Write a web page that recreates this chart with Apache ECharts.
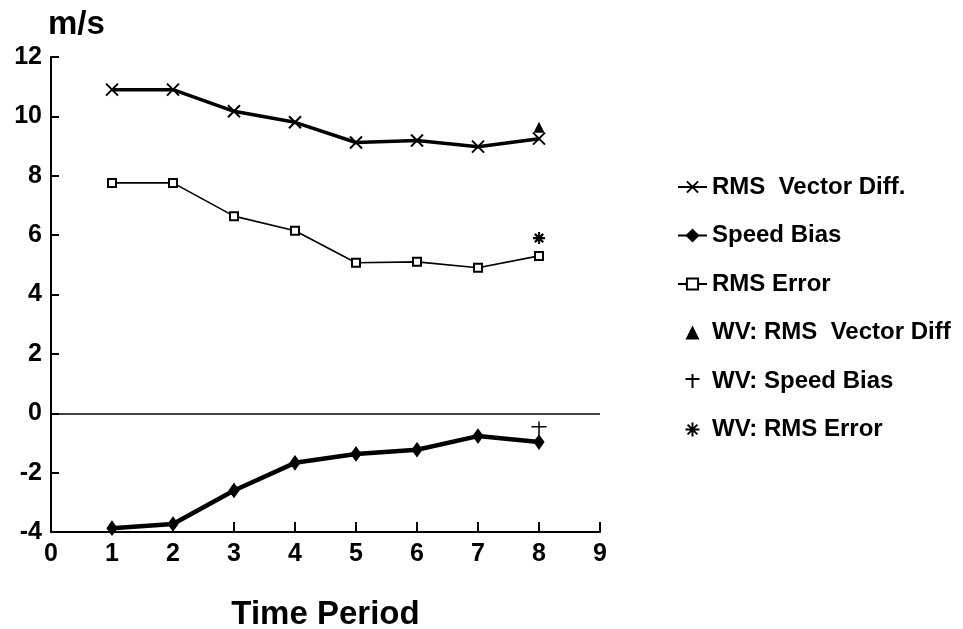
<!DOCTYPE html>
<html><head><meta charset="utf-8">
<script src="https://cdn.jsdelivr.net/npm/echarts@6/dist/echarts.min.js"></script>
<style>html,body{margin:0;padding:0;background:#fff}#c{width:963px;height:629px}</style>
</head><body><div id="c"></div>
<script>
const periods = [1, 2, 3, 4, 5, 6, 7, 8];
const rmsVectorDiff = [10.9, 10.9, 10.17, 9.8, 9.12, 9.19, 8.98, 9.25];
const speedBias = [-3.87, -3.73, -2.6, -1.67, -1.37, -1.23, -0.77, -0.97];
const rmsError = [7.76, 7.76, 6.64, 6.15, 5.07, 5.1, 4.9, 5.3];
const wvPeriod = [8];
const wvRmsVectorDiff = [9.63];
const wvSpeedBias = [-0.53];
const wvRmsError = [5.9];
const xTicks = [0, 1, 2, 3, 4, 5, 6, 7, 8, 9];
const yTicks = [-4, -2, 0, 2, 4, 6, 8, 10, 12];

const pair = (xs, ys) => xs.map((x, i) => [x, ys[i]]);
const FONT = '"Liberation Sans", Arial, sans-serif';
const X_PATH = 'path://M0,0L10,10M10,0L0,10';
const PLUS_PATH = 'path://M5,0L5,10M0,3.5L10,3.5';
const STAR_PATH = 'path://M5,0L5,10M0,5L10,5M1.5,1.5L8.5,8.5M8.5,1.5L1.5,8.5';
const TRI_PATH = 'path://M5,0L10,10L0,10Z';

const chart = echarts.init(document.getElementById('c'), null, {renderer: 'canvas'});
chart.setOption({
  animation: false,
  backgroundColor: '#fff',
  textStyle: {fontFamily: FONT, color: '#000'},
  grid: {left: 51, top: 57, right: 363, bottom: 97, containLabel: false, outerBoundsMode: 'none'},
  xAxis: {
    type: 'value', min: xTicks[0], max: xTicks[xTicks.length - 1], interval: 1,
    name: 'Time Period', nameLocation: 'middle', nameGap: 66,
    nameTextStyle: {fontFamily: FONT, fontWeight: 'bold', fontSize: 33, color: '#000'},
    axisLine: {show: true, onZero: false, lineStyle: {color: '#000', width: 2}},
    axisTick: {show: true, inside: true, length: 10, lineStyle: {color: '#000', width: 2}},
    axisLabel: {fontFamily: FONT, fontWeight: 'bold', fontSize: 25, color: '#000', margin: 10},
    splitLine: {show: false}
  },
  yAxis: {
    type: 'value', min: yTicks[0], max: yTicks[yTicks.length - 1], interval: 2,
    name: 'm/s', nameLocation: 'end', nameGap: 16,
    nameTextStyle: {fontFamily: FONT, fontWeight: 'bold', fontSize: 33, color: '#000', align: 'left', padding: [0, 0, 0, -3]},
    axisLine: {show: true, onZero: false, lineStyle: {color: '#000', width: 2}},
    axisTick: {show: true, inside: true, length: 8, lineStyle: {color: '#000', width: 2}},
    axisLabel: {fontFamily: FONT, fontWeight: 'bold', fontSize: 25, color: '#000', margin: 9},
    splitLine: {show: false}
  },
  legend: {
    orient: 'vertical', left: 672, top: 170, itemGap: 24.5, itemWidth: 29, itemHeight: 14,
    textStyle: {fontFamily: FONT, fontWeight: 'bold', fontSize: 24, color: '#000'},
    data: ['RMS  Vector Diff.', 'Speed Bias', 'RMS Error', 'WV: RMS  Vector Diff', 'WV: Speed Bias', 'WV: RMS Error']
  },
  series: [
    {
      name: 'RMS  Vector Diff.', type: 'line', data: pair(periods, rmsVectorDiff),
      symbol: X_PATH, symbolSize: 12,
      lineStyle: {color: '#000', width: 3.5},
      itemStyle: {color: '#000', borderColor: '#000', borderWidth: 2},
      markLine: {
        silent: true, symbol: ['none', 'none'], label: {show: false},
        lineStyle: {color: '#000', width: 1.5, type: 'solid'},
        data: [{yAxis: 0}]
      }
    },
    {
      name: 'Speed Bias', type: 'line', data: pair(periods, speedBias),
      symbol: 'diamond', symbolSize: [10, 14],
      lineStyle: {color: '#000', width: 4.5},
      itemStyle: {color: '#000', borderColor: '#000', borderWidth: 1}
    },
    {
      name: 'RMS Error', type: 'line', data: pair(periods, rmsError),
      symbol: 'rect', symbolSize: 8,
      lineStyle: {color: '#000', width: 1.6},
      itemStyle: {color: '#fff', borderColor: '#000', borderWidth: 2}
    },
    {
      name: 'WV: RMS  Vector Diff', type: 'scatter', data: pair(wvPeriod, wvRmsVectorDiff),
      symbol: TRI_PATH, symbolSize: 11, symbolKeepAspect: true,
      itemStyle: {color: '#000', opacity: 1}
    },
    {
      name: 'WV: Speed Bias', type: 'scatter', data: pair(wvPeriod, wvSpeedBias),
      symbol: PLUS_PATH, symbolSize: 15, symbolKeepAspect: true,
      itemStyle: {color: '#000', borderColor: '#000', borderWidth: 1.5, opacity: 1}
    },
    {
      name: 'WV: RMS Error', type: 'scatter', data: pair(wvPeriod, wvRmsError),
      symbol: STAR_PATH, symbolSize: 12, symbolKeepAspect: true,
      itemStyle: {color: '#000', borderColor: '#000', borderWidth: 2.2, opacity: 1}
    }
  ]
});
</script>
</body></html>
